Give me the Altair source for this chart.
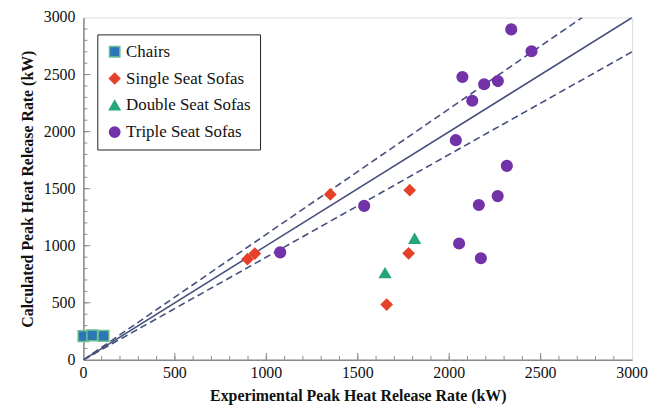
import altair as alt
import pandas as pd

# Data
chairs_x = [0, 48, 110]
chairs_y = [208, 214, 210]
single_x = [897, 937, 1350, 1784, 1778, 1658]
single_y = [882, 931, 1450, 1487, 934, 484]
double_x = [1649, 1811]
double_y = [761, 1063]
triple_x = [1076, 1535, 2036, 2072, 2126, 2191, 2266, 2339, 2450, 2315, 2054, 2162, 2173, 2265]
triple_y = [942, 1349, 1925, 2479, 2271, 2415, 2443, 2896, 2704, 1700, 1020, 1357, 890, 1435]

series = ["Chairs", "Single Seat Sofas", "Double Seat Sofas", "Triple Seat Sofas"]
fills = ["#2a76b8", "#e5412a", "#22a67a", "#7232a8"]
strokes = ["#6cc08e", "#e5412a", "#22a67a", "#7232a8"]
shapes = ["square", "diamond", "triangle-up", "circle"]

line_names = ["equal", "upper", "lower"]
line_x0 = [0, 0, 0]
line_y0 = [0, 0, 0]
line_x1 = [3000, 2727, 3000]
line_y1 = [3000, 3000, 2700]

minor_ticks = list(range(100, 3000, 100))
major_ticks = [500, 1000, 1500, 2000, 2500]
label_values = [0, 500, 1000, 1500, 2000, 2500, 3000]

rows = []
for name, xs_, ys_ in [("Chairs", chairs_x, chairs_y), ("Single Seat Sofas", single_x, single_y),
                       ("Double Seat Sofas", double_x, double_y), ("Triple Seat Sofas", triple_x, triple_y)]:
    for a, b in zip(xs_, ys_):
        rows.append({"x": a, "y": b, "series": name})
pts = pd.DataFrame(rows)

lines = []
for n, a0, b0, a1, b1 in zip(line_names, line_x0, line_y0, line_x1, line_y1):
    lines.append({"x": a0, "y": b0, "name": n})
    lines.append({"x": a1, "y": b1, "name": n})
ldf = pd.DataFrame(lines)

W, H = 553, 345
xs = alt.Scale(domain=[0, 3000], nice=False)
ys = alt.Scale(domain=[0, 3000], nice=False)

TFONT = "Liberation Serif"
XTITLE = "Experimental Peak Heat Release Rate (kW)"
YTITLE = "Calculated Peak Heat Release Rate (kW)"

xaxis = alt.Axis(values=label_values, labels=False, ticks=False, grid=False,
                 title=XTITLE, titleFont=TFONT, titleFontSize=16,
                 titleFontWeight="bold", titleColor="#111", titlePadding=28,
                 domainColor="#8a8a8a", domainWidth=1.5)
yaxis = alt.Axis(values=label_values, labels=False, ticks=False, grid=False,
                 title=YTITLE, titleFont=TFONT, titleFontSize=16,
                 titleFontWeight="bold", titleColor="#111", titlePadding=48,
                 domainColor="#8a8a8a", domainWidth=1.5)

solid = alt.Chart(ldf[ldf.name == "equal"]).mark_line(color="#46507e", strokeWidth=1.6, clip=True).encode(
    x=alt.X("x:Q", scale=xs, axis=xaxis, title=XTITLE), y=alt.Y("y:Q", scale=ys, axis=yaxis, title=YTITLE))
dashed = alt.Chart(ldf[ldf.name != "equal"]).mark_line(color="#46507e", strokeWidth=1.6,
                                                        strokeDash=[7, 4], clip=True).encode(
    x=alt.X("x:Q", scale=xs, axis=xaxis, title=XTITLE), y=alt.Y("y:Q", scale=ys, axis=yaxis, title=YTITLE),
    detail="name:N")

tdf_minor = pd.DataFrame({"v": minor_ticks})
tdf_major = pd.DataFrame({"v": major_ticks})
tdf_labels = pd.DataFrame({"v": label_values, "t": [str(v) for v in label_values]})

xt_minor = alt.Chart(tdf_minor).mark_rule(color="#8a8a8a", strokeWidth=1).encode(
    x=alt.X("v:Q", scale=xs, axis=xaxis, title=XTITLE), y=alt.value(H), y2=alt.value(H - 4))
xt_major = alt.Chart(tdf_major).mark_rule(color="#8a8a8a", strokeWidth=1).encode(
    x=alt.X("v:Q", scale=xs, axis=xaxis, title=XTITLE), y=alt.value(H), y2=alt.value(H - 7))
yt_minor = alt.Chart(tdf_minor).mark_rule(color="#8a8a8a", strokeWidth=1).encode(
    y=alt.Y("v:Q", scale=ys, axis=yaxis, title=YTITLE), x=alt.value(0), x2=alt.value(4))
yt_major = alt.Chart(tdf_major).mark_rule(color="#8a8a8a", strokeWidth=1).encode(
    y=alt.Y("v:Q", scale=ys, axis=yaxis, title=YTITLE), x=alt.value(0), x2=alt.value(7))

xlab = alt.Chart(tdf_labels).mark_text(font=TFONT, fontSize=16, color="#111", baseline="top",
                                       align="center", clip=False).encode(
    x=alt.X("v:Q", scale=xs, axis=xaxis, title=XTITLE), y=alt.value(H + 5), text="t:N")
ylab = alt.Chart(tdf_labels).mark_text(font=TFONT, fontSize=16, color="#111", baseline="middle",
                                       align="right", clip=False).encode(
    y=alt.Y("v:Q", scale=ys, axis=yaxis, title=YTITLE), x=alt.value(-8), text="t:N")

legend = alt.Legend(title=None, orient="none", legendX=14, legendY=17, fillColor="white",
                    strokeColor="#222", padding=9, rowPadding=9, labelFont=TFONT, labelFontSize=17,
                    labelColor="#111", symbolSize=110, symbolStrokeWidth=1.5,
                    labelOffset=3, symbolOpacity=1, labelLimit=300)

points = alt.Chart(pts).mark_point(filled=True, size=115, opacity=1, strokeWidth=1.5, clip=False).encode(
    x=alt.X("x:Q", scale=xs, axis=xaxis, title=XTITLE),
    y=alt.Y("y:Q", scale=ys, axis=yaxis, title=YTITLE),
    fill=alt.Fill("series:N", scale=alt.Scale(domain=series, range=fills), legend=legend),
    stroke=alt.Stroke("series:N", scale=alt.Scale(domain=series, range=strokes), legend=legend),
    shape=alt.Shape("series:N", scale=alt.Scale(domain=series, range=shapes), legend=legend),
)

chart = alt.layer(solid, dashed, xt_minor, xt_major, yt_minor, yt_major, xlab, ylab, points).properties(
    width=W, height=H, autosize=alt.AutoSizeParams(type="none"),
    padding={"left": 76, "top": 8, "right": 16, "bottom": 55}
).configure_view(stroke="#666", strokeWidth=1.5).configure(
    background="white", font=TFONT
).configure_legend(labelFont=TFONT)

chart.save("out.html", embed_options={"renderer": "svg", "actions": False})
